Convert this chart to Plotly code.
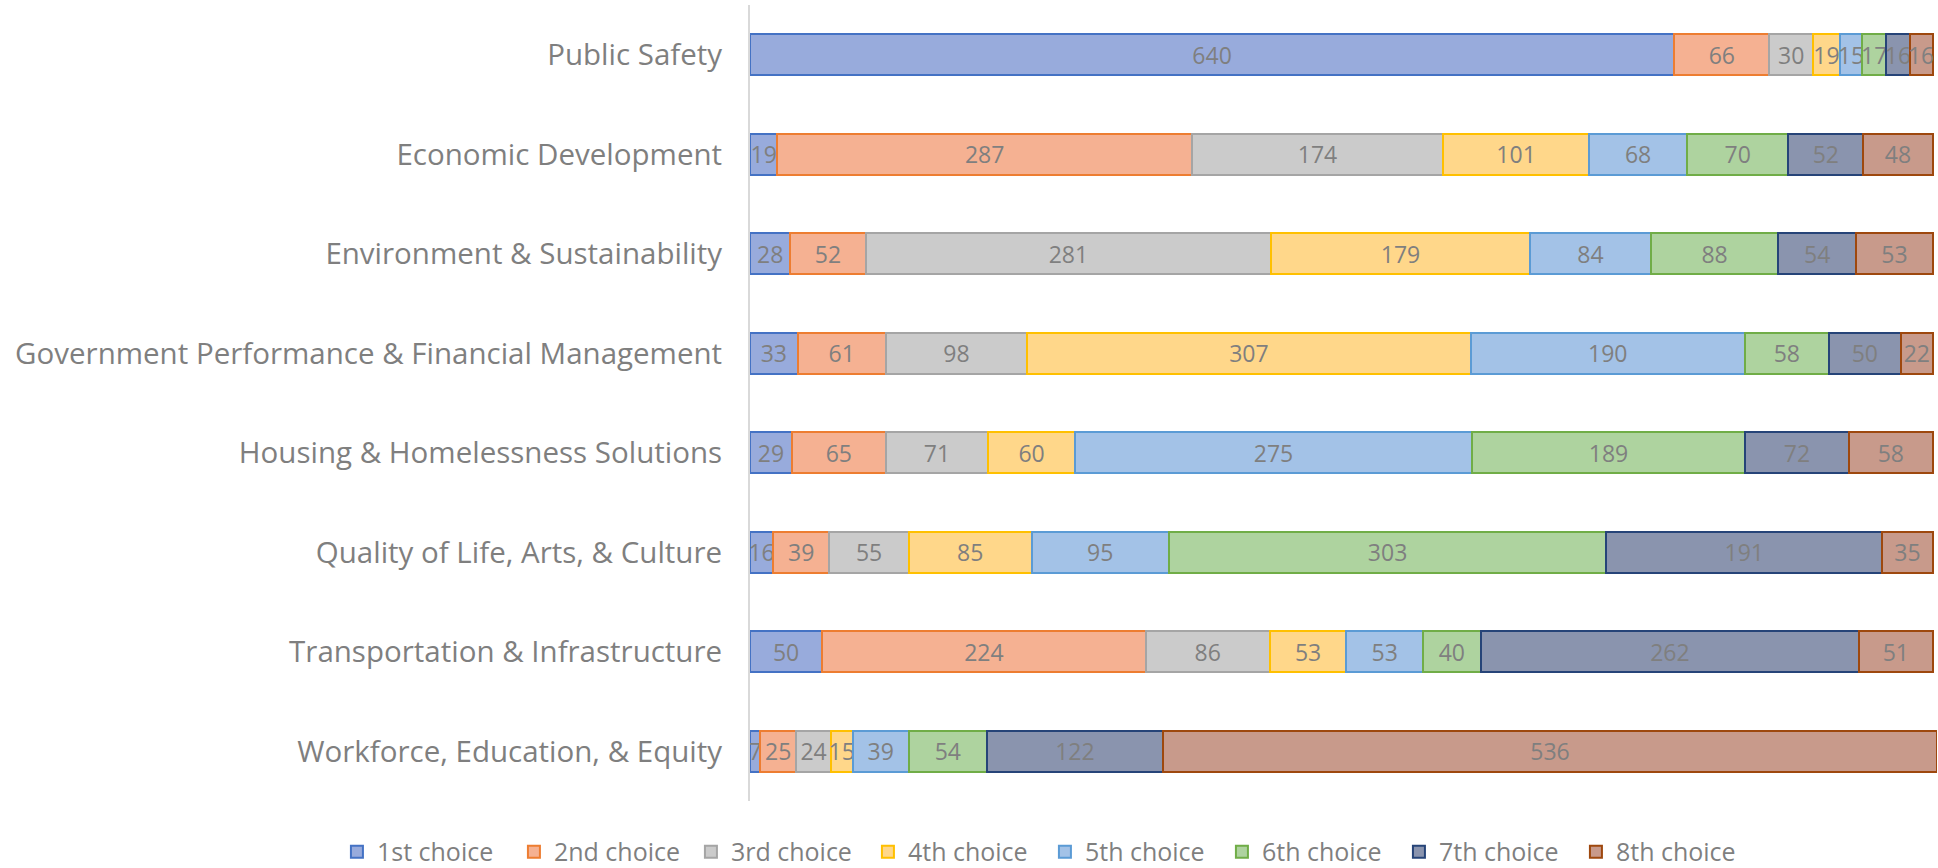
import plotly.graph_objects as go

categories = [
    "Public Safety",
    "Economic Development",
    "Environment & Sustainability",
    "Government Performance & Financial Management",
    "Housing & Homelessness Solutions",
    "Quality of Life, Arts, & Culture",
    "Transportation & Infrastructure",
    "Workforce, Education, & Equity",
]

series_names = ["1st choice", "2nd choice", "3rd choice", "4th choice",
                "5th choice", "6th choice", "7th choice", "8th choice"]

choice_1 = [640, 19, 28, 33, 29, 16, 50, 7]
choice_2 = [66, 287, 52, 61, 65, 39, 224, 25]
choice_3 = [30, 174, 281, 98, 71, 55, 86, 24]
choice_4 = [19, 101, 179, 307, 60, 85, 53, 15]
choice_5 = [15, 68, 84, 190, 275, 95, 53, 39]
choice_6 = [17, 70, 88, 58, 189, 303, 40, 54]
choice_7 = [16, 52, 54, 50, 72, 191, 262, 122]
choice_8 = [16, 48, 53, 22, 58, 35, 51, 536]

series_values = [choice_1, choice_2, choice_3, choice_4,
                 choice_5, choice_6, choice_7, choice_8]

fill_colors = ["#98abdc", "#f5b192", "#cbcbcb", "#ffd78a",
               "#a3c2e7", "#aed39f", "#8a94ae", "#c89a8b"]
line_colors = ["#4472c4", "#ed7d31", "#a5a5a5", "#ffc000",
               "#5b9bd5", "#70ad47", "#264478", "#9e480e"]

FONT = "Open Sans"
GREY = "#7f7f7f"

fig = go.Figure()
for name, vals, fc, lc in zip(series_names, series_values, fill_colors, line_colors):
    fig.add_trace(go.Bar(
        name=name,
        y=categories,
        x=vals,
        orientation="h",
        marker=dict(color=fc, line=dict(color=lc, width=2)),
        text=[str(v) for v in vals],
        textposition="inside",
        insidetextanchor="middle",
        constraintext="none",
        textfont=dict(family=FONT, size=23, color=GREY),
        cliponaxis=True,
    ))

total = max(sum(col) for col in zip(*series_values))

fig.update_layout(
    barmode="stack",
    bargap=0.59,
    width=1938,
    height=868,
    margin=dict(l=750, r=1, t=5, b=67, autoexpand=False),
    paper_bgcolor="white",
    plot_bgcolor="white",
    font=dict(family=FONT, color=GREY),
    uniformtext=dict(minsize=23, mode="show"),
    showlegend=True,
    legend=dict(
        orientation="h",
        x=-0.348, xanchor="left",
        y=-0.064, yanchor="middle",
        font=dict(family=FONT, size=25, color=GREY),
        entrywidth=132,
        traceorder="normal",
    ),
    xaxis=dict(
        range=[0, total],
        visible=False,
        showgrid=False,
        zeroline=False,
    ),
    yaxis=dict(
        categoryorder="array",
        categoryarray=categories,
        autorange="reversed",
        showline=True,
        linecolor="#d9d9d9",
        linewidth=2,
        showgrid=False,
        ticks="",
        ticklabelstandoff=20,
        tickfont=dict(family=FONT, size=29.5, color=GREY),
    ),
)

fig.write_html("out.html",
               config={"displayModeBar": False},
               post_script="document.body.style.margin='0';document.body.style.overflow='hidden';")
